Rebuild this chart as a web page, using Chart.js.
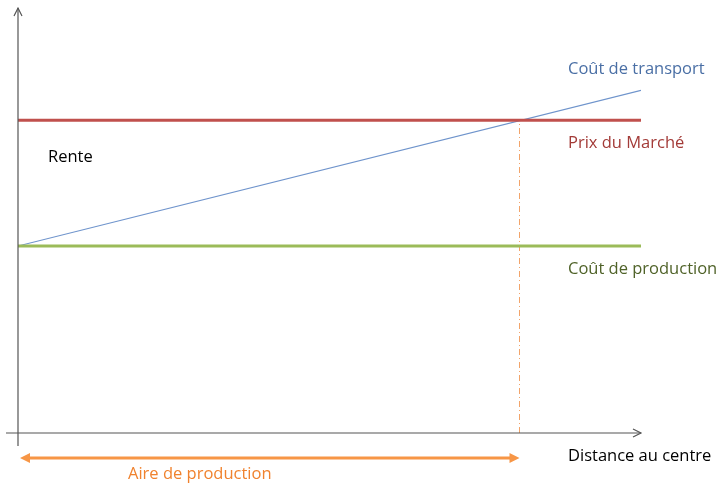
<!DOCTYPE html>
<html>
<head>
<meta charset="utf-8">
<script src="https://cdn.jsdelivr.net/npm/chart.js@4"></script>
<style>
  html, body { margin: 0; padding: 0; background: #fff; }
  #wrap { width: 728px; height: 484px; }
</style>
</head>
<body>
<div id="wrap"><canvas id="rente"></canvas></div>
<script>
// modèle de von Thünen : rente foncière selon la distance au centre
const distance = [0, 100];
const coutProduction = [44, 44];
const prixMarche = [73.6, 73.6];
const coutTransport = [44, 80.6];
const limiteProduction = 80.5;   // distance où la rente s'annule

const FONT = '"Open Sans", "Noto Sans", sans-serif';

const schemaPlugin = {
    id: 'schema',
    afterDatasetsDraw(chart) {
        const { ctx, scales: { x, y } } = chart;
        const x0 = x.getPixelForValue(0);
        const y0 = y.getPixelForValue(0);
        const xEnd = x.getPixelForValue(100);
        const yTop = y.getPixelForValue(100);
        ctx.save();

        // axes avec flèches
        ctx.strokeStyle = '#555';
        ctx.lineWidth = 1.2;
        ctx.beginPath();
        ctx.moveTo(x0, y0 + 13);
        ctx.lineTo(x0, yTop);
        ctx.moveTo(x0 - 12, y0);
        ctx.lineTo(xEnd, y0);
        ctx.stroke();
        ctx.beginPath();
        ctx.moveTo(x0 - 4, yTop + 8);
        ctx.lineTo(x0, yTop);
        ctx.lineTo(x0 + 4, yTop + 8);
        ctx.moveTo(xEnd - 8, y0 - 4);
        ctx.lineTo(xEnd, y0);
        ctx.lineTo(xEnd - 8, y0 + 4);
        ctx.stroke();

        // aire de production (double flèche)
        const ya = y0 + 25;
        const xa1 = x0 + 2;
        const xa2 = x.getPixelForValue(limiteProduction);
        ctx.strokeStyle = '#f79646';
        ctx.fillStyle = '#f79646';
        ctx.lineWidth = 3;
        ctx.beginPath();
        ctx.moveTo(xa1 + 8, ya);
        ctx.lineTo(xa2 - 8, ya);
        ctx.stroke();
        ctx.beginPath();
        ctx.moveTo(xa1, ya);
        ctx.lineTo(xa1 + 10, ya - 5);
        ctx.lineTo(xa1 + 10, ya + 5);
        ctx.closePath();
        ctx.moveTo(xa2, ya);
        ctx.lineTo(xa2 - 10, ya - 5);
        ctx.lineTo(xa2 - 10, ya + 5);
        ctx.closePath();
        ctx.fill();

        // étiquettes
        ctx.font = '16.5px ' + FONT;
        ctx.textBaseline = 'middle';
        ctx.textAlign = 'left';
        const lx = xEnd - 73;
        const labels = [
            ['Coût de transport', '#4a6fa5', lx, y.getPixelForValue(coutTransport[1]) - 21],
            ['Prix du Marché', '#a33b38', lx, y.getPixelForValue(prixMarche[0]) + 23],
            ['Coût de production', '#4f6228', lx, y.getPixelForValue(coutProduction[0]) + 23],
            ['Rente', '#000', x0 + 30, y.getPixelForValue(prixMarche[0]) + 37],
            ['Distance au centre', '#000', lx, y0 + 23],
            ['Aire de production', '#f0822e', x0 + 110, y0 + 41]
        ];
        labels.forEach(([t, c, px, py]) => {
            ctx.fillStyle = c;
            ctx.fillText(t, px, py);
        });
        ctx.restore();
    }
};

new Chart(document.getElementById('rente'), {
    type: 'line',
    data: {
        datasets: [
            {
                label: 'Prix du Marché',
                data: distance.map((d, i) => ({ x: d, y: prixMarche[i] })),
                borderColor: '#c0504d',
                borderWidth: 3
            },
            {
                label: 'Coût de production',
                data: distance.map((d, i) => ({ x: d, y: coutProduction[i] })),
                borderColor: '#9bbb59',
                borderWidth: 3
            },
            {
                label: 'Coût de transport',
                data: distance.map((d, i) => ({ x: d, y: coutTransport[i] })),
                borderColor: '#6f94cc',
                borderWidth: 1.2
            },
            {
                label: 'Limite',
                data: [{ x: limiteProduction, y: 0 }, { x: limiteProduction, y: prixMarche[0] }],
                borderColor: '#f2a46a',
                borderWidth: 1,
                borderDash: [6, 3, 1, 3]
            }
        ]
    },
    options: {
        responsive: true,
        maintainAspectRatio: false,
        animation: false,
        layout: { padding: { left: 18, right: 87, top: 8, bottom: 51 } },
        elements: { point: { radius: 0 } },
        scales: {
            x: { type: 'linear', min: 0, max: 100, display: false },
            y: { type: 'linear', min: 0, max: 100, display: false }
        },
        plugins: {
            legend: { display: false },
            tooltip: { enabled: false }
        }
    },
    plugins: [schemaPlugin]
});
</script>
</body>
</html>
